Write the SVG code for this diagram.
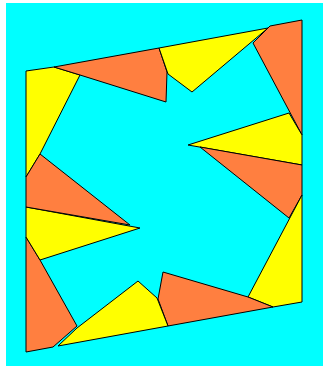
<svg xmlns="http://www.w3.org/2000/svg" width="323" height="367" viewBox="0 0 323 367">
<style>
.o{fill:#FF7F40;stroke:#000;stroke-width:1;stroke-linejoin:miter}
.y{fill:#FFFF00;stroke:#000;stroke-width:1;stroke-linejoin:miter}
</style>
<rect x="0" y="0" width="323" height="367" fill="#fff"/>
<rect x="6" y="3" width="317" height="363" fill="#00FFFF"/>
<g id="pieces">
<g id="yellow-top-left"><polygon class="y" points="26,71 54,67 80,75 40,154 26,177"/></g>
<g id="orange-top"><polygon class="o" points="54,67 159,48 167,72 166,102 80,75"/></g>
<g id="yellow-top"><polygon class="y" points="159,48 268,28 192,92 168,74"/></g>
<g id="orange-top-right"><polygon class="o" points="253,43 270,26 302,20 302,135"/></g>
<g id="yellow-right"><polygon class="y" points="188,145 289,113 302,135 302,165"/></g>
<g id="orange-right"><polygon class="o" points="200,147 302,165 302,195 289,218"/></g>
<g id="yellow-bottom-right"><polygon class="y" points="302,195 302,302 273,307 248,297"/></g>
<g id="orange-bottom"><polygon class="o" points="163,272 248,297 273,307 168,326 158,299"/></g>
<g id="yellow-bottom"><polygon class="y" points="58,346 77,328 138,281 157,298 168,326"/></g>
<g id="orange-bottom-left"><polygon class="o" points="26,237 40,260 77,326 53,347 26,352"/></g>
<g id="yellow-left"><polygon class="y" points="26,207 140,228 40,260 26,237"/></g>
<g id="orange-left"><polygon class="o" points="40,154 130,225 26,207 26,177"/></g>
</g>
</svg>
